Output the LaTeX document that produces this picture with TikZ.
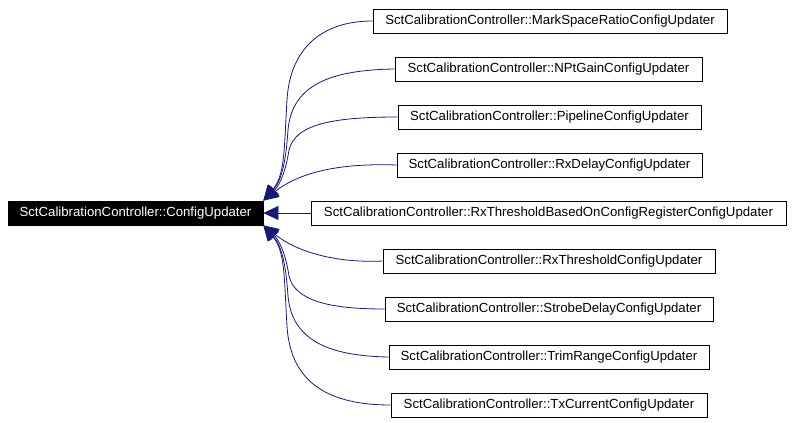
\documentclass[tikz,border=0pt]{standalone}
\usepackage{fontspec}
\setmainfont{Liberation Sans}
\usetikzlibrary{arrows.meta}
\definecolor{edgeblue}{HTML}{191970}
\tikzset{
  cls/.style={draw=black, fill=white, line width=0.8pt, minimum height=24pt, inner sep=0pt,
    font=\fontsize{13.2}{15}\selectfont, text=black},
  mainbox/.style={cls, fill=black, draw=black, text=white},
  inh/.style={draw=edgeblue, line width=0.8pt, -{Triangle[length=15pt,width=14pt]}},
}
\begin{document}
\begin{tikzpicture}[x=1pt,y=-1pt]
\useasboundingbox (0,0) rectangle (793,423);
\node[mainbox, minimum width=255pt] (m) at (135.5,213) {SctCalibrationController::ConfigUpdater};
\node[cls, minimum width=354pt] (b1) at (550,21) {SctCalibrationController::MarkSpaceRatioConfigUpdater};
\node[cls, minimum width=307pt] (b2) at (548.5,69) {SctCalibrationController::NPtGainConfigUpdater};
\node[cls, minimum width=303pt] (b3) at (549.5,117) {SctCalibrationController::PipelineConfigUpdater};
\node[cls, minimum width=305pt] (b4) at (549.5,165) {SctCalibrationController::RxDelayConfigUpdater};
\node[cls, minimum width=475pt] (b5) at (548.5,213) {SctCalibrationController::RxThresholdBasedOnConfigRegisterConfigUpdater};
\node[cls, minimum width=332pt] (b6) at (549,261) {SctCalibrationController::RxThresholdConfigUpdater};
\node[cls, minimum width=328pt] (b7) at (549,309) {SctCalibrationController::StrobeDelayConfigUpdater};
\node[cls, minimum width=320pt] (b8) at (549,357) {SctCalibrationController::TrimRangeConfigUpdater};
\node[cls, minimum width=316pt] (b9) at (549,405) {SctCalibrationController::TxCurrentConfigUpdater};
% upper edges
\draw[inh] (b1.west) .. controls (320,21) and (290,50) .. (287,100) .. controls (284,150) and (285,175) .. (m.north east);
\draw[inh] (b2.west) .. controls (330,70) and (292,85) .. (288,130) .. controls (286,160) and (282,180) .. (m.north east);
\draw[inh] (b3.west) .. controls (330,117) and (295,125) .. (289,150) .. controls (286,170) and (280,185) .. (m.north east);
\draw[inh] (b4.west) .. controls (340,163) and (300,172) .. (m.north east);
% middle edge
\draw[inh] (b5.west) -- (m.east);
% lower edges
\draw[inh] (b6.west) .. controls (340,263) and (300,254) .. (m.south east);
\draw[inh] (b7.west) .. controls (330,309) and (295,301) .. (289,276) .. controls (286,256) and (280,241) .. (m.south east);
\draw[inh] (b8.west) .. controls (330,356) and (292,341) .. (288,296) .. controls (286,266) and (282,246) .. (m.south east);
\draw[inh] (b9.west) .. controls (320,405) and (290,376) .. (287,326) .. controls (284,276) and (285,251) .. (m.south east);
\end{tikzpicture}
\end{document}
